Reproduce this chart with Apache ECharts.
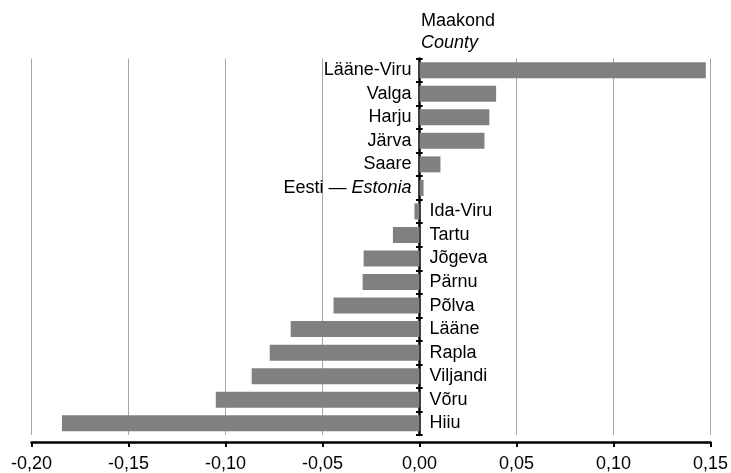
<!DOCTYPE html>
<html>
<head>
<meta charset="utf-8">
<script src="https://cdn.jsdelivr.net/npm/echarts@6/dist/echarts.min.js"></script>
<style>html,body{margin:0;padding:0;background:#fff}#c{width:731px;height:473px}</style>
</head>
<body>
<div id="c"></div>
<script>
var categories = ['Lääne-Viru','Valga','Harju','Järva','Saare','Eesti — Estonia','Ida-Viru','Tartu','Jõgeva','Pärnu','Põlva','Lääne','Rapla','Viljandi','Võru','Hiiu'];
var values = [0.1476,0.0395,0.0360,0.0335,0.0108,0.0021,-0.0026,-0.0137,-0.0288,-0.0293,-0.0443,-0.0664,-0.0772,-0.0865,-0.1050,-0.1843];
var xTicks = {min:-0.20, max:0.15, interval:0.05};
var titleLines = ['Maakond','County'];

var FONT = '"Liberation Sans", Arial, sans-serif';
var GRID_L = 31.5, GRID_R = 19.7, W = 731;
var zeroX = GRID_L + (0 - xTicks.min) / (xTicks.max - xTicks.min) * (W - GRID_L - GRID_R);
var rightOffset = -((W - GRID_R) - zeroX);

var data = values.map(function(v, i){
  var name = categories[i];
  var isEst = name.indexOf(' — ') >= 0;
  var txt = isEst ? '{n|' + name.split(' — ')[0] + ' — }{i|' + name.split(' — ')[1] + '}' : '{n|' + name + '}';
  return {
    value: v,
    label: {
      show: true,
      position: v >= 0 ? 'left' : 'right',
      distance: v >= 0 ? 8 : 10,
      formatter: txt
    }
  };
});

var chart = echarts.init(document.getElementById('c'), null, {renderer:'canvas'});
chart.setOption({
  animation: false,
  backgroundColor: '#fff',
  title: {
    text: '{a|' + titleLines[0] + '}\n{b|' + titleLines[1] + '}',
    left: 421, top: 10, padding: 0,
    textStyle: {
      fontWeight: 'normal',
      rich: {
        a: {fontFamily: FONT, fontSize: 18, color: '#000', lineHeight: 22, fontWeight: 'normal'},
        b: {fontFamily: FONT, fontSize: 18, color: '#000', fontStyle: 'italic', lineHeight: 22, fontWeight: 'normal'}
      }
    }
  },
  grid: {left: GRID_L, right: GRID_R, top: 58.5, bottom: 37, containLabel: false},
  xAxis: {
    type: 'value',
    min: xTicks.min, max: xTicks.max, interval: xTicks.interval,
    position: 'bottom',
    offset: 7,
    axisLine: {show: true, onZero: false, lineStyle: {color: '#000', width: 2.5}},
    axisTick: {show: true, length: 5, lineStyle: {color: '#000', width: 2}},
    axisLabel: {
      fontFamily: FONT, fontSize: 18, color: '#000', margin: 13,
      formatter: function(v){ var r = Math.round(v*100)/100; if (Math.abs(r) < 1e-9) r = 0; return r.toFixed(2).replace('.', ','); }
    },
    splitLine: {show: true, lineStyle: {color: '#a6a6a6', width: 1}}
  },
  yAxis: [{
    type: 'category', data: categories, inverse: true, position: 'left',
    axisLine: {show: true, onZero: true, lineStyle: {color: '#000', width: 2.5}},
    axisTick: {show: true, length: 3.5, alignWithLabel: false, lineStyle: {color: '#000', width: 2}},
    axisLabel: {show: false},
    splitLine: {show: false}
  }, {
    type: 'category', data: categories, inverse: true, position: 'right',
    offset: rightOffset,
    axisLine: {show: false, onZero: false},
    axisTick: {show: true, length: 3.5, alignWithLabel: false, lineStyle: {color: '#000', width: 2}},
    axisLabel: {show: false},
    splitLine: {show: false}
  }],
  series: [{
    type: 'bar',
    yAxisIndex: 0,
    barWidth: 16,
    data: data,
    itemStyle: {color: '#808080'},
    label: {
      show: true, color: '#000',
      rich: {
        n: {fontFamily: FONT, fontSize: 18, color: '#000'},
        i: {fontFamily: FONT, fontSize: 18, color: '#000', fontStyle: 'italic'}
      }
    },
    z: 3
  }]
});
</script>
</body>
</html>
